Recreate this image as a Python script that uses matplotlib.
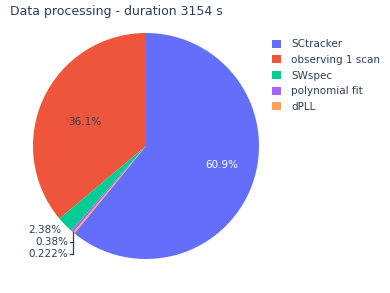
import matplotlib
matplotlib.use("Agg")
import matplotlib.pyplot as plt
from matplotlib.patches import Patch

labels = ["SCtracker", "observing 1 scan", "SWspec", "polynomial fit", "dPLL"]
durations = [1921, 1139, 75, 12, 7]
colors = ["#636efa", "#EF553B", "#00cc96", "#ab63fa", "#FFA15A"]
total = sum(durations)

TXT = "#2a3f5f"
plt.rcParams["font.family"] = ["DejaVu Sans"]

W, H = 390, 293
fig = plt.figure(figsize=(W / 100, H / 100), dpi=100)

# pie centre and radius in pixels
cx, cy, r = 146, 146, 113
ax = fig.add_axes([(cx - r) / W, (H - cy - r) / H, 2 * r / W, 2 * r / H])

def px(x, y):
    # pixel position -> data coords of the pie axes
    return (x - cx) / r, (cy - y) / r

def fmt(p):
    return f"{p:.3g}%"

start = 90 - 360 * durations[0] / total
wedges, _ = ax.pie(durations, colors=colors, startangle=start, counterclock=True,
                   radius=1, wedgeprops=dict(linewidth=0))
ax.set_xlim(-1, 1)
ax.set_ylim(-1, 1)
ax.set_aspect("equal")
ax.axis("off")

pcts = [100 * d / total for d in durations]

# inside labels for the two big slices
ax.text(*px(222, 165), fmt(pcts[0]), color="white", fontsize=7.5, ha="center", va="center")
ax.text(*px(85, 122), fmt(pcts[1]), color=TXT, fontsize=7.5, ha="center", va="center")

# outside labels for the small slices
ax.text(*px(61, 230), fmt(pcts[2]), color=TXT, fontsize=7.5, ha="right", va="center")
ax.text(*px(68, 242), fmt(pcts[3]), color=TXT, fontsize=7.5, ha="right", va="center")
ax.text(*px(68, 254), fmt(pcts[4]), color=TXT, fontsize=7.5, ha="right", va="center")
lx = 72.5
ax.plot(*zip(px(lx, 232), px(lx, 254)), color=TXT, lw=0.9, clip_on=False)
ax.plot(*zip(px(69.5, 242), px(lx, 242)), color=TXT, lw=0.9, clip_on=False)
ax.plot(*zip(px(69.5, 254), px(lx, 254)), color=TXT, lw=0.9, clip_on=False)

fig.text(10 / W, 1 - 12 / H, f"Data processing - duration {total} s", color=TXT,
         fontsize=9.0, ha="left", va="center")

handles = [Patch(facecolor=c, edgecolor="none") for c in colors]
fig.legend(handles, labels, loc="upper left", bbox_to_anchor=(268 / W, 1 - 35 / H),
           frameon=False, fontsize=7.5, labelcolor=TXT, handlelength=0.8,
           handleheight=0.8, handletextpad=1.0, labelspacing=0.55, borderaxespad=0)

fig.savefig("out.png", dpi=100)
